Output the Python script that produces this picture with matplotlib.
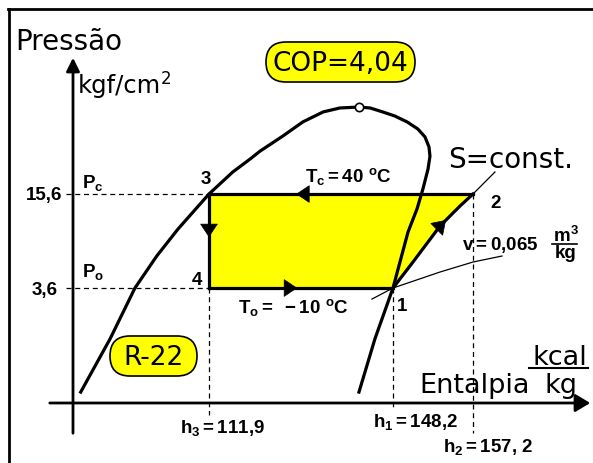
import numpy as np
import matplotlib
matplotlib.use('Agg')
import matplotlib.pyplot as plt
from matplotlib.patches import FancyBboxPatch

# R-22 cycle: evaporating at -10 C, condensing at 40 C
h3 = 111.9   # kcal/kg, liquid out of condenser (h4 = h3)
h1 = 148.2   # kcal/kg, saturated vapour into compressor
h2 = 157.2   # kcal/kg, end of isentropic compression
p_c = 15.6   # kgf/cm2
p_o = 3.6    # kgf/cm2
cop = "4,04"

# saturated liquid line (up to the critical point)
liq_h = [86.6, 92.4, 97.3, 101.6, 105.8, 111.9, 116.6, 120.0, 122.0, 126.5, 130.4, 134.4, 137.7, 141.5]
liq_p = [0.71, 1.63, 3.6, 5.93, 9.04, 15.6, 22.0, 26.9, 30.5, 38.6, 48.0, 56.1, 59.7, 60.6]
# saturated vapour line (from the critical point down)
vap_h = [141.5, 143.7, 146.2, 148.4, 149.8, 151.0, 151.8, 152.25, 152.36, 152.14, 151.57, 150.9, 149.89, 148.2, 144.64, 141.49]
vap_p = [60.6, 59.7, 56.1, 52.7, 48.0, 43.0, 38.0, 32.5, 28.2, 23.0, 16.9, 12.35, 8.62, 3.6, 1.63, 0.71]
crit_h, crit_p = 141.5, 60.6

# isentrope 1 -> 2 and its continuation
s_h = [148.2, 150.45, 153.49, 155.74, 157.2]
s_p = [3.6, 5.40, 9.47, 12.94, 15.6]
s_ext_h = [157.2, 159.67]
s_ext_p = [15.6, 22.0]

# isochore v = 0,065 m3/kg through point 1
v_h = [144.05, 148.2, 153.49, 157.2, 160.46]
v_p = [3.03, 3.6, 4.62, 5.40, 5.93]

plt.rcParams['mathtext.fontset'] = 'custom'
plt.rcParams['mathtext.rm'] = 'Liberation Sans:bold'
plt.rcParams['mathtext.it'] = 'Liberation Sans:bold'
plt.rcParams['mathtext.bf'] = 'Liberation Sans:bold'

W, H = 593, 464
fig = plt.figure(figsize=(W / 100, H / 100), dpi=100)

# schematic enthalpy axis: superheat region drawn stretched
LO, HI = 5.07, 8.89


def h_fwd(h):
    h = np.asarray(h, dtype=float)
    return np.where(h <= h1, (h - h3) * LO, (h1 - h3) * LO + (h - h1) * HI)


def h_inv(u):
    u = np.asarray(u, dtype=float)
    k = (h1 - h3) * LO
    return np.where(u <= k, h3 + u / LO, h1 + (u - k) / HI)


ax = fig.add_axes([0, 0, 1, 1])
ax.set_xscale('function', functions=(h_fwd, h_inv))
ax.set_yscale('log')
ax.set_xlim(70.68, 170.70)
ax.set_ylim(0.2348, 326.9)
ax.axis('off')

deco = fig.add_axes([0, 0, 1, 1], zorder=3)
deco.set_xlim(0, W)
deco.set_ylim(H, 0)
deco.axis('off')


def data_at(px, py):
    return ax.transData.inverted().transform((px, H - py))


def arrow_on(p0, p1, frac, size=20):
    d0, d1 = ax.transData.transform([p0, p1])
    tip = d0 + frac * (d1 - d0)
    tail = tip - 0.02 * (d1 - d0)
    tip, tail = ax.transData.inverted().transform([tip, tail])
    ax.annotate('', xy=tip, xytext=tail,
                arrowprops=dict(arrowstyle='-|>,head_length=0.45,head_width=0.3',
                                color='k', lw=0.5, mutation_scale=size), zorder=6)


# cycle area
poly_h = [h3, h2] + s_h[::-1] + [h3]
poly_p = [p_c, p_c] + s_p[::-1] + [p_o]
ax.fill(poly_h, poly_p, color='#ffff00', lw=0, zorder=1)

# dashed guides
h_left = data_at(66, 0)[0]
dash = dict(color='k', lw=0.9, dashes=(4, 3), zorder=2)
ax.plot([h_left, h3], [p_c, p_c], **dash)
ax.plot([h_left, h3], [p_o, p_o], **dash)
ax.plot([h3, h3], [p_o, data_at(0, 416)[1]], **dash)
ax.plot([h1, h1], [p_o, data_at(0, 411)[1]], **dash)
ax.plot([h2, h2], [p_c, data_at(0, 434)[1]], **dash)

# thin lines
ax.plot(v_h, v_p, color='k', lw=0.9, zorder=3)
ax.plot(s_ext_h, s_ext_p, color='k', lw=0.9, zorder=3)

# saturation dome
ax.plot(liq_h, liq_p, color='k', lw=2.3, solid_joinstyle='round', zorder=4)
ax.plot(vap_h, vap_p, color='k', lw=2.3, solid_joinstyle='round', zorder=4)
ax.plot([crit_h], [crit_p], 'o', ms=6, mfc='white', mec='k', mew=1.2, zorder=5)

# cycle outline
ax.plot([h3, h2], [p_c, p_c], color='k', lw=2.3, zorder=4)
ax.plot([h3, h1], [p_o, p_o], color='k', lw=2.3, zorder=4)
ax.plot([h3, h3], [p_c, p_o], color='k', lw=2.3, zorder=4)
ax.plot(s_h, s_p, color='k', lw=2.3, zorder=4)

arrow_on((h2, p_c), (h3, p_c), 0.67)
arrow_on((h3, p_o), (h1, p_o), 0.48)
arrow_on((h3, p_c), (h3, p_o), 0.46)
arrow_on((s_h[2], s_p[2]), (s_h[3], s_p[3]), 0.3)

# frame and axes
deco.plot([9, 9], [10, H], color='k', lw=2)
deco.plot([8, W], [10, 10], color='k', lw=2)
deco.annotate('', xy=(73, 56), xytext=(73, 437),
              arrowprops=dict(arrowstyle='-|>,head_length=0.5,head_width=0.25',
                              color='k', lw=2, mutation_scale=16))
deco.annotate('', xy=(593, 404), xytext=(47, 404),
              arrowprops=dict(arrowstyle='-|>,head_length=0.5,head_width=0.3',
                              color='k', lw=2, mutation_scale=18))

big = dict(family='DejaVu Sans', va='baseline', color='k')
deco.text(15, 50, 'Pressão', fontsize=20, **big)
deco.text(78, 93, 'kgf/cm', fontsize=17.5, **big)
deco.text(161, 84, '2', fontsize=12, **big)
deco.text(419, 393, 'Entalpia', fontsize=19.5, **big)
deco.text(560, 365, 'kcal', fontsize=19.5, ha='center', **big)
deco.plot([529, 588], [369, 369], color='k', lw=1.5)
deco.text(561, 393, 'kg', fontsize=19.5, ha='center', **big)
deco.text(448, 168, 'S=const.', fontsize=20, **big)

# labelled boxes
for (x0, y0, x1, y1), label in [((266, 43, 415, 83), 'COP=' + cop),
                                ((110, 337, 197, 377), 'R-22')]:
    r = (y1 - y0) / 2
    deco.add_patch(FancyBboxPatch((x0, y0), x1 - x0, y1 - y0,
                                  boxstyle=f'round,pad=0,rounding_size={r}',
                                  fc='#ffff00', ec='k', lw=1.2))
    deco.text((x0 + x1) / 2, (y0 + y1) / 2 + 1, label, fontsize=19,
              family='DejaVu Sans', ha='center', va='center')

small = dict(fontsize=13.5, family='Liberation Sans', weight='bold', va='baseline', color='k')
deco.text(62, 200, '15,6', ha='right', **small)
deco.text(58, 295, '3,6', ha='right', **small)
deco.text(82, 188, r'$P_c$', **small)
deco.text(82, 277, r'$P_o$', **small)
deco.text(206, 184, '3', ha='center', **small)
deco.text(197, 285, '4', ha='center', **small)
deco.text(397, 311, '1', **small)
deco.text(490, 208, '2', **small)
deco.text(305, 182, r'$T_c = 40\ ^oC$', **small)
deco.text(238, 313, r'$T_o = \ -10\ ^oC$', **small)
deco.text(180, 433, r'$h_3 = 111{,}9$', **small)
deco.text(373, 427, r'$h_1 = 148{,}2$', **small)
deco.text(443, 452, r'$h_2 = 157{,}\ 2$', **small)
deco.text(462, 250, r'$v = 0{,}065$', **small)
deco.text(553, 242, r'$m^3$', **small)
deco.plot([552, 577], [245, 245], color='k', lw=1.2)
deco.text(566, 258, 'kg', ha='center', **small)

fig.savefig('out.png', dpi=100, facecolor='white')
